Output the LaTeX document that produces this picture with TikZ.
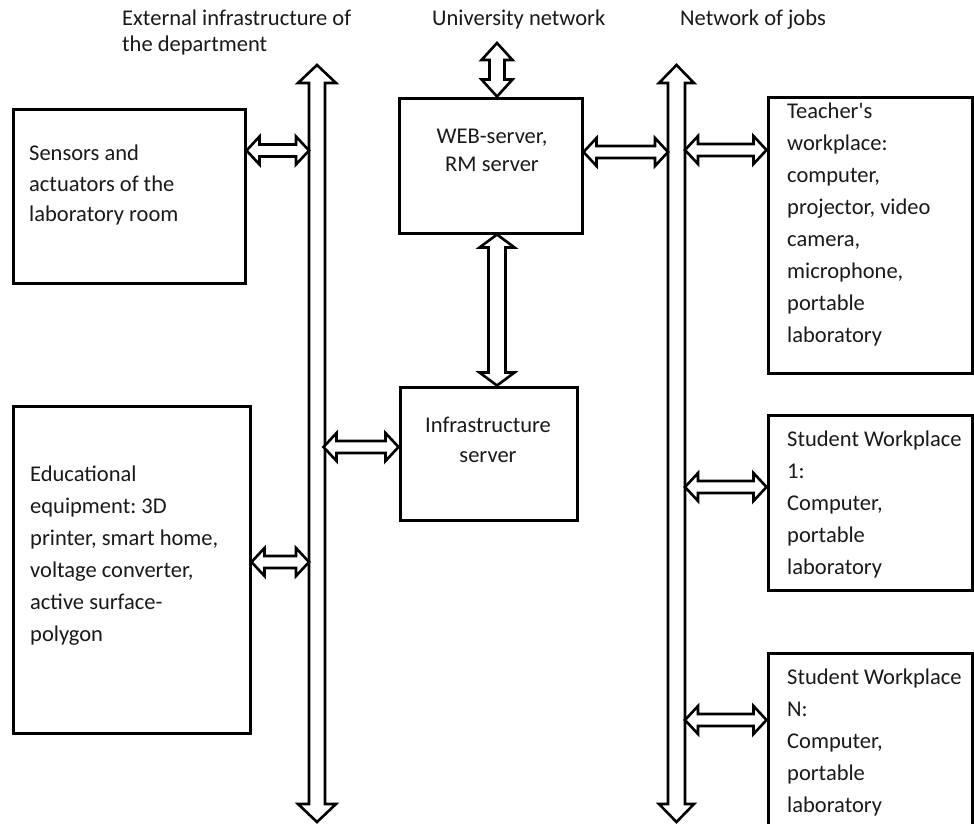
\documentclass[tikz,border=0pt]{standalone}
\usepackage{fontspec}
\setmainfont{Carlito}
\usetikzlibrary{calc}
\definecolor{ink}{HTML}{1A1A1A}
\frenchspacing
\newcommand\vdarrow[5]{%
  \draw[hollow] let \p1=(#1), \p2=(#2) in
  (\x1,\y1) -- (\x1+#4pt,\y1-#5pt) -- (\x1+#3pt,\y1-#5pt) -- (\x1+#3pt,\y2+#5pt)
  -- (\x1+#4pt,\y2+#5pt) -- (\x1,\y2) -- (\x1-#4pt,\y2+#5pt) -- (\x1-#3pt,\y2+#5pt)
  -- (\x1-#3pt,\y1-#5pt) -- (\x1-#4pt,\y1-#5pt) -- cycle;}
\newcommand\hdarrow[5]{%
  \draw[hollow] let \p1=(#1), \p2=(#2) in
  (\x1,\y1) -- (\x1+#5pt,\y1+#4pt) -- (\x1+#5pt,\y1+#3pt) -- (\x2-#5pt,\y1+#3pt)
  -- (\x2-#5pt,\y1+#4pt) -- (\x2,\y1) -- (\x2-#5pt,\y1-#4pt) -- (\x2-#5pt,\y1-#3pt)
  -- (\x1+#5pt,\y1-#3pt) -- (\x1+#5pt,\y1-#4pt) -- cycle;}
\begin{document}
\begin{tikzpicture}[x=1pt,y=-1pt,
  box/.style={draw, line width=3pt, inner sep=0pt, fill=white},
  hollow/.style={draw, line width=2.6pt, fill=white, line join=miter},
  txt/.style={inner sep=0pt, text=ink, align=left, font=\frenchspacing\fontsize{22.5}{32}\selectfont},
  ctxt/.style={inner sep=0pt, text=ink, align=center, font=\frenchspacing\fontsize{22.5}{28}\selectfont},
  htxt/.style={inner sep=0pt, text=ink, align=left, font=\frenchspacing\fontsize{22.5}{26}\selectfont}]
\clip (0,0) rectangle (974,823);
\fill[white] (0,0) rectangle (974,823);

% header labels
\node[htxt, anchor=north west] (hext) at (122,10) {External infrastructure of\\the department};
\node[htxt, anchor=north west] (huni) at (432,10) {University network};
\node[htxt, anchor=north west] (hjob) at (680,10) {Network of jobs};

% boxes
\node[box, minimum width=232pt, minimum height=174pt] (sens) at (129,196) {};
\node[box, minimum width=237pt, minimum height=327pt] (edu) at (131.5,569.5) {};
\node[box, minimum width=183pt, minimum height=135pt] (web) at (490.5,165.5) {};
\node[box, minimum width=177pt, minimum height=133pt] (infra) at (488.5,453.5) {};
\node[box, minimum width=204pt, minimum height=276pt] (teach) at (870,235) {};
\node[box, minimum width=204pt, minimum height=175pt] (stud1) at (870,502.5) {};
\node[box, minimum width=204pt, minimum height=197pt] (studn) at (870,751.5) {};

% box texts
\node[txt, anchor=north west, font=\frenchspacing\fontsize{22.5}{30.5}\selectfont] (tsens) at (29,145) {Sensors and\\actuators of the\\laboratory room};
\node[txt, anchor=north west] (tedu) at (30,466) {Educational\\equipment: 3D\\printer, smart home,\\voltage converter,\\active surface-\\polygon};
\node[ctxt, anchor=north] (tweb) at (492,129) {WEB-server,\\RM server};
\node[ctxt, anchor=north, font=\frenchspacing\fontsize{22.5}{30}\selectfont] (tinfra) at (488,417) {Infrastructure\\server};
\node[txt, anchor=north west] (tteach) at (787,103) {Teacher\textquotesingle s\\workplace:\\computer,\\projector, video\\camera,\\microphone,\\portable\\laboratory};
\node[txt, anchor=north west] (tstud1) at (787,431) {Student Workplace\\1:\\Computer,\\portable\\laboratory};
\node[txt, anchor=north west] (tstudn) at (787,669) {Student Workplace\\N:\\Computer,\\portable\\laboratory};

% bus arrows
\coordinate (b1t) at (317,65);
\coordinate (b1b) at (317,822);
\coordinate (b2t) at (676.5,65);
\coordinate (b2b) at (676.5,822);
\vdarrow{b1t}{b1b}{8}{19}{18}
\vdarrow{b2t}{b2b}{8.5}{17.5}{18}

% university network arrow
\coordinate (un) at (497,43);
\vdarrow{un}{web.north}{7.5}{15.5}{17}
% web <-> infra
\coordinate (wb) at ($(web.south)+(6.5,0)$);
\vdarrow{wb}{infra.north}{8.5}{17.5}{13}

% horizontal arrows
\coordinate (a1) at ($(sens.north east)+(0,43)$);
\coordinate (a1e) at ($(a1 -| b1t)+(-8,0)$);
\hdarrow{a1}{a1e}{6}{14}{13}
\coordinate (a2) at (edu.east |- 0,562);
\coordinate (a2e) at ($(a2 -| b1t)+(-8,0)$);
\hdarrow{a2}{a2e}{6}{14}{13}
\coordinate (a3) at ($(infra.west |- 0,447)+(-75,0)$);
\coordinate (a3e) at (infra.west |- 0,447);
\hdarrow{a3}{a3e}{6}{14}{13}
\coordinate (a4) at (web.east |- 0,152);
\coordinate (a4e) at ($(a4 -| b2t)+(-8.5,0)$);
\hdarrow{a4}{a4e}{6}{14}{13}
\coordinate (a5) at ($(b2t |- 0,150)+(8.5,0)$);
\coordinate (a5e) at (teach.west |- 0,150);
\hdarrow{a5}{a5e}{6}{14}{13}
\coordinate (a6) at ($(b2t |- 0,487)+(8.5,0)$);
\coordinate (a6e) at (stud1.west |- 0,487);
\hdarrow{a6}{a6e}{6}{14}{13}
\coordinate (a7) at ($(b2t |- 0,720)+(8.5,0)$);
\coordinate (a7e) at (studn.west |- 0,720);
\hdarrow{a7}{a7e}{6}{14}{13}
\end{tikzpicture}
\end{document}
